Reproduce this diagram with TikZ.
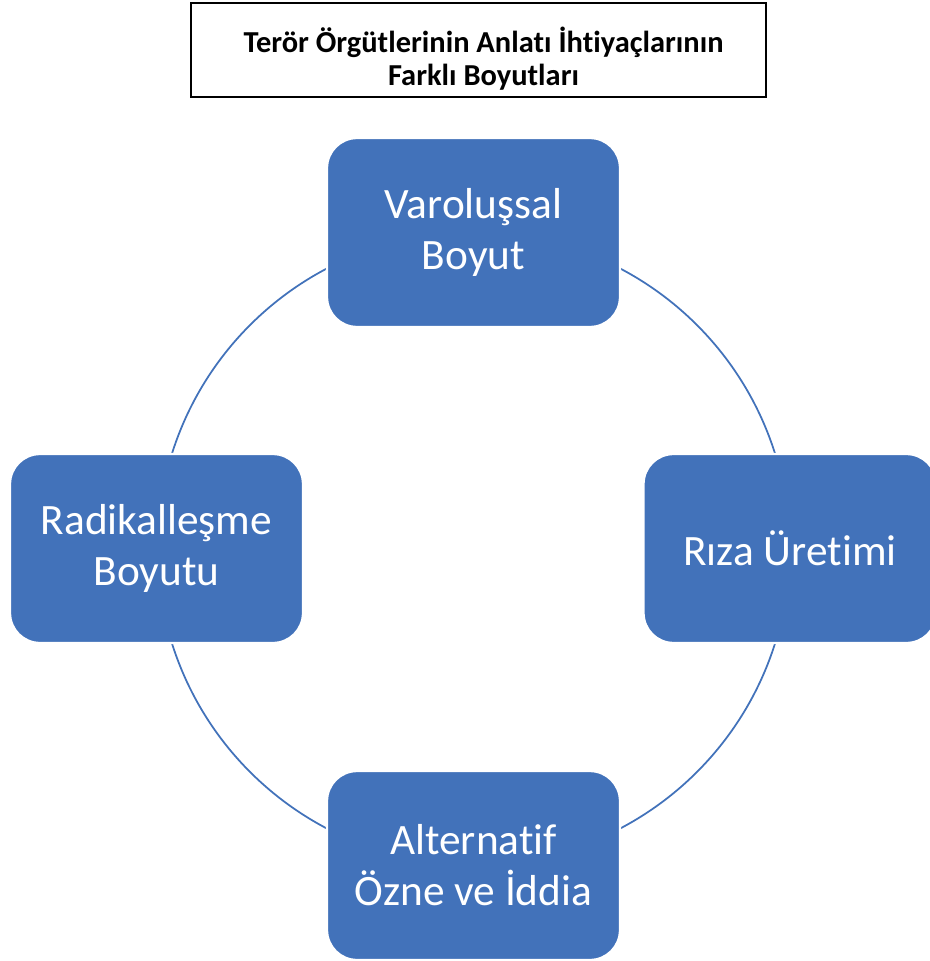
\documentclass[tikz,border=0pt]{standalone}
\usepackage{fontspec}
\setmainfont[Ligatures=NoCommon]{Carlito}
\usetikzlibrary{positioning, calc}

\definecolor{boxblue}{RGB}{66,114,186}

\begin{document}
\begin{tikzpicture}[
    % Global options: one unit is one pixel of the reference
    x=0.03cm, y=-0.03cm,
    line width=0.8pt,
    dimbox/.style={rectangle, rounded corners=0.9cm, fill=boxblue,
      draw=white, line width=2pt, minimum width=8.79cm,
      minimum height=5.67cm, text=white, align=center,
      font=\fontsize{37}{43.5}\selectfont},
    titlebox/.style={rectangle, draw=black, line width=1.4pt, fill=white,
      minimum width=17.25cm, minimum height=2.82cm},
    titletext/.style={align=center,
      font=\bfseries\fontsize{26}{28}\selectfont},
  ]
    \useasboundingbox (0,0) rectangle (929,961);

    % --- Title ---
    \node[titlebox] (title) at (478.5,50) {};
    \node[titletext] (titlelbl) at ($(title.center)+(5,9)$)
      {Terör Örgütlerinin Anlatı İhtiyaçlarının\\Farklı Boyutları};

    % --- Cycle behind the boxes ---
    \coordinate (ctr) at (473.5,548.5);
    \draw[boxblue, line width=1.5pt] (ctr) circle (9.48cm);

    % --- Four dimensions ---
    \node[dimbox] (exist) at (473.5,232.5) {Varoluşsal\\Boyut};
    \node[dimbox] (consent) at (790,548.5) {Rıza Üretimi};
    \node[dimbox] (alter) at (473.5,865.5) {Alternatif\\Özne ve İddia};
    \node[dimbox] (radical) at (156.5,548.5) {Radikalleşme\\Boyutu};
  \end{tikzpicture}
\end{document}
